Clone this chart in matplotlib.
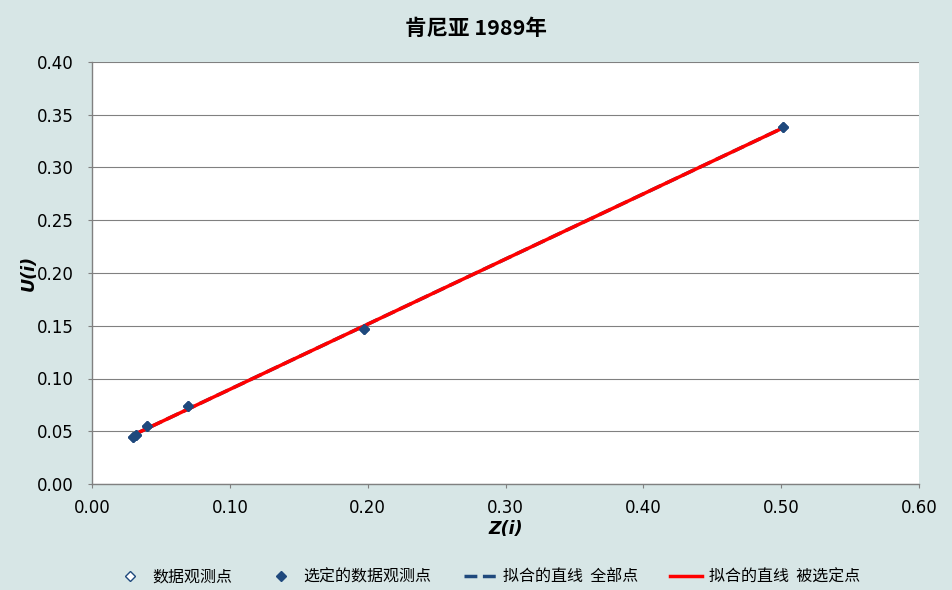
import numpy as np
import matplotlib
matplotlib.use("Agg")
import matplotlib.pyplot as plt

plt.rcParams['font.family'] = ['DejaVu Sans', 'Noto Sans CJK SC']

title = "肯尼亚 1989年"
x_label = "Z(i)"
y_label = "U(i)"
z_vals = [0.030, 0.032, 0.040, 0.070, 0.197, 0.501]
u_vals = [0.0445, 0.0467, 0.0548, 0.0740, 0.1470, 0.3380]
x_ticks = [0.0, 0.1, 0.2, 0.3, 0.4, 0.5, 0.6]
y_ticks = [0.0, 0.05, 0.10, 0.15, 0.20, 0.25, 0.30, 0.35, 0.40]
legend_labels = ["数据观测点", "选定的数据观测点", "拟合的直线  全部点", "拟合的直线  被选定点"]

bg = '#D7E6E6'
fig = plt.figure(figsize=(9.52, 5.90), dpi=100, facecolor=bg)
ax = fig.add_axes([92/952, 1-484/590, (919-92)/952, (484-62)/590])
ax.set_facecolor('white')

z = np.array(z_vals)
u = np.array(u_vals)
coef = np.polyfit(z, u, 1)
xl = np.array([z.min(), z.max()])

h1, = ax.plot(z, u, linestyle='none', marker='D', markersize=5, markerfacecolor='white',
              markeredgecolor='#1F497D', label=legend_labels[0])
h2, = ax.plot(z, u, linestyle='none', marker='D', markersize=5, color='#1F497D',
              label=legend_labels[1], zorder=3)
h3, = ax.plot(xl, np.polyval(coef, xl), '--', color='#1F497D', lw=2.5, label=legend_labels[2], zorder=2)
h4, = ax.plot(xl, np.polyval(coef, xl), '-', color='#FF0000', lw=2.5, label=legend_labels[3], zorder=2.5)

ax.set_xlim(0, 0.6)
ax.set_ylim(0, 0.4)
ax.set_xticks(x_ticks)
ax.set_xticklabels([f"{t:.2f}" for t in x_ticks])
ax.set_yticks(y_ticks)
ax.set_yticklabels([f"{t:.2f}" for t in y_ticks])
ax.grid(axis='y', color='#808080', lw=0.8)
ax.set_axisbelow(True)
for s in ['top', 'right']:
    ax.spines[s].set_visible(False)
for s in ['left', 'bottom']:
    ax.spines[s].set_color('#808080')
    ax.spines[s].set_linewidth(1.0)
ax.tick_params(axis='both', colors='#808080', labelcolor='black', labelsize=12, length=3, direction='out')
ax.tick_params(axis='y', pad=10)
ax.tick_params(axis='x', pad=8)

ax.set_xlabel(x_label, fontsize=12.5, fontweight='bold', style='italic')
ax.set_ylabel(y_label, fontsize=12.5, fontweight='bold', style='italic')
ax.xaxis.set_label_coords(0.5, -(520-484)/422, transform=ax.transAxes)
ax.yaxis.set_label_coords(-(92-38)/827, 0.5, transform=ax.transAxes)
fig.text(0.5, 1-28/590, title, ha='center', va='center', fontsize=15.5, fontweight='bold',
         family=['Noto Sans CJK SC', 'DejaVu Sans'])

leg = fig.legend(handles=[h1, h2, h3, h4], loc='center', bbox_to_anchor=(487/952, 1-577/590),
                 ncol=4, frameon=False, handlelength=2.0, handletextpad=0.45, columnspacing=2.0,
                 prop={'family': ['Noto Sans CJK SC', 'DejaVu Sans'], 'size': 11.5})

fig.savefig('out.png', dpi=100, facecolor=bg)
